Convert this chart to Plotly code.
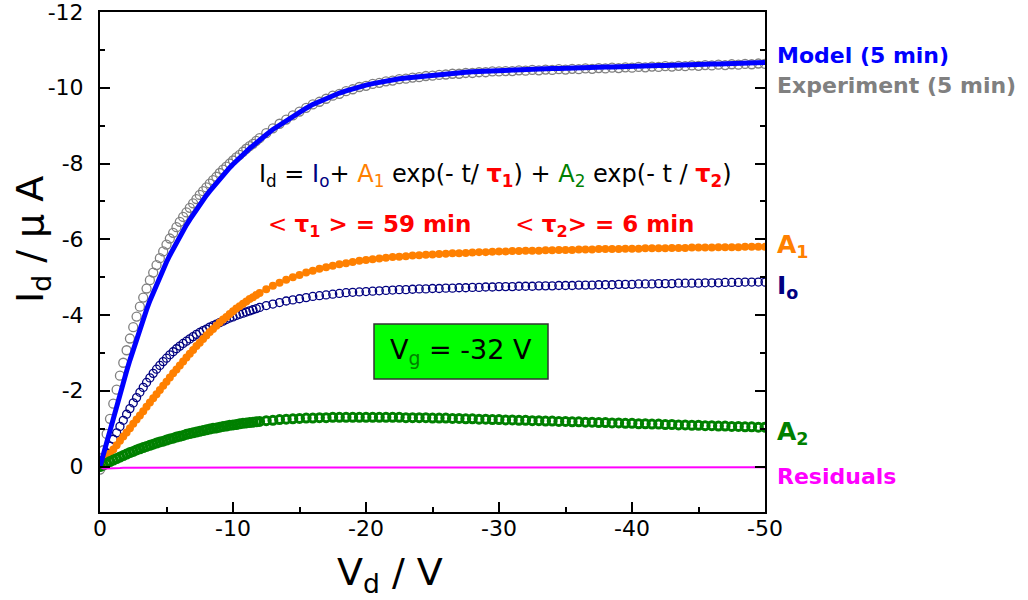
import plotly.graph_objects as go

# ---------------- data ----------------
V = [0, -0.25, -0.5, -0.75, -1, -1.25, -1.5, -1.75, -2, -2.25, -2.5, -2.75, -3,
     -3.25, -3.5, -3.75, -4, -4.25, -4.5, -4.75, -5, -5.25, -5.5, -5.75, -6,
     -6.25, -6.5, -6.75, -7, -7.25, -7.5, -7.75, -8, -8.25, -8.5, -8.75, -9,
     -9.25, -9.5, -9.75, -10, -10.25, -10.5, -10.75, -11, -11.25, -11.5, -11.75, -12,
     -12.5, -13, -13.5, -14, -14.5, -15, -15.5, -16, -16.5, -17, -17.5, -18, -18.5, -19, -19.5, -20,
     -20.5, -21, -21.5, -22, -22.5, -23, -23.5, -24, -24.5, -25, -25.5, -26, -26.5, -27, -27.5, -28, -28.5, -29, -29.5, -30,
     -30.5, -31, -31.5, -32, -32.5, -33, -33.5, -34, -34.5, -35, -35.5, -36, -36.5, -37, -37.5, -38, -38.5, -39, -39.5, -40,
     -40.5, -41, -41.5, -42, -42.5, -43, -43.5, -44, -44.5, -45, -45.5, -46, -46.5, -47, -47.5, -48, -48.5, -49, -49.5, -50]

model_5min = [0, -0.33, -0.66, -0.98, -1.30, -1.61, -1.92, -2.22, -2.52, -2.81, -3.09, -3.37, -3.64,
              -3.89, -4.14, -4.38, -4.60, -4.81, -5.01, -5.21, -5.40, -5.58, -5.75, -5.92, -6.08,
              -6.23, -6.38, -6.52, -6.66, -6.79, -6.92, -7.04, -7.16, -7.27, -7.38, -7.49, -7.60,
              -7.70, -7.80, -7.89, -7.98, -8.07, -8.15, -8.24, -8.32, -8.40, -8.47, -8.55, -8.62,
              -8.76, -8.90, -9.02, -9.14, -9.25, -9.36, -9.46, -9.56, -9.64, -9.72, -9.79, -9.86, -9.92, -9.98, -10.03, -10.07,
              -10.11, -10.15, -10.18, -10.21, -10.24, -10.26, -10.28, -10.30, -10.32, -10.34, -10.36, -10.37, -10.39, -10.40, -10.41, -10.42, -10.43, -10.44, -10.45, -10.46,
              -10.47, -10.47, -10.48, -10.49, -10.49, -10.50, -10.50, -10.51, -10.51, -10.52, -10.52, -10.53, -10.53, -10.54, -10.54, -10.55, -10.55, -10.56, -10.56, -10.57,
              -10.57, -10.58, -10.58, -10.59, -10.59, -10.60, -10.60, -10.61, -10.61, -10.62, -10.62, -10.63, -10.63, -10.64, -10.64, -10.65, -10.65, -10.66, -10.66, -10.67]

experiment_5min = [0.08, -0.43, -0.86, -1.26, -1.66, -2.03, -2.40, -2.74, -3.07, -3.38, -3.68, -3.96, -4.22,
                   -4.46, -4.70, -4.92, -5.12, -5.32, -5.50, -5.68, -5.86, -6.02, -6.17, -6.32, -6.46,
                   -6.59, -6.71, -6.83, -6.95, -7.06, -7.17, -7.27, -7.37, -7.47, -7.56, -7.65, -7.75,
                   -7.84, -7.92, -8.00, -8.08, -8.16, -8.23, -8.31, -8.39, -8.46, -8.52, -8.60, -8.67,
                   -8.80, -8.93, -9.05, -9.16, -9.27, -9.37, -9.47, -9.56, -9.63, -9.71, -9.79, -9.84, -9.91, -9.96, -10.02, -10.05,
                   -10.10, -10.13, -10.17, -10.19, -10.23, -10.24, -10.27, -10.28, -10.31, -10.32, -10.34, -10.35, -10.37, -10.37, -10.39, -10.39, -10.41, -10.41, -10.43, -10.43,
                   -10.44, -10.44, -10.46, -10.45, -10.47, -10.46, -10.48, -10.47, -10.49, -10.48, -10.50, -10.49, -10.51, -10.50, -10.52, -10.51, -10.53, -10.52, -10.54, -10.53,
                   -10.55, -10.54, -10.56, -10.55, -10.57, -10.56, -10.58, -10.57, -10.59, -10.58, -10.60, -10.59, -10.61, -10.60, -10.62, -10.61, -10.63, -10.62, -10.64, -10.63]

I_o = [0.0, -0.18, -0.36, -0.54, -0.72, -0.89, -1.06, -1.22, -1.38, -1.53, -1.68, -1.82, -1.96,
       -2.09, -2.22, -2.34, -2.46, -2.57, -2.67, -2.77, -2.86, -2.95, -3.03, -3.11, -3.18,
       -3.25, -3.31, -3.37, -3.43, -3.49, -3.54, -3.59, -3.63, -3.68, -3.72, -3.76, -3.80,
       -3.84, -3.88, -3.92, -3.95, -3.99, -4.02, -4.05, -4.08, -4.11, -4.14, -4.17, -4.20,
       -4.25, -4.29, -4.33, -4.37, -4.40, -4.43, -4.46, -4.49, -4.51, -4.53, -4.55, -4.57, -4.59, -4.60, -4.61, -4.62,
       -4.63, -4.64, -4.65, -4.66, -4.67, -4.67, -4.68, -4.69, -4.69, -4.70, -4.70, -4.71, -4.71, -4.72, -4.72, -4.73, -4.73, -4.74, -4.74, -4.75,
       -4.75, -4.75, -4.76, -4.76, -4.76, -4.77, -4.77, -4.77, -4.78, -4.78, -4.78, -4.79, -4.79, -4.79, -4.80, -4.80, -4.80, -4.81, -4.81, -4.81,
       -4.82, -4.82, -4.82, -4.83, -4.83, -4.83, -4.84, -4.84, -4.84, -4.84, -4.85, -4.85, -4.85, -4.86, -4.86, -4.86, -4.87, -4.87, -4.87, -4.87]

A_1 = [0.0, -0.11, -0.23, -0.34, -0.45, -0.56, -0.68, -0.79, -0.90, -1.01, -1.13, -1.24, -1.35,
       -1.46, -1.58, -1.69, -1.80, -1.91, -2.02, -2.13, -2.24, -2.35, -2.46, -2.56, -2.67,
       -2.77, -2.88, -2.98, -3.08, -3.18, -3.27, -3.37, -3.46, -3.55, -3.63, -3.72, -3.80,
       -3.88, -3.95, -4.03, -4.10, -4.17, -4.23, -4.30, -4.36, -4.42, -4.47, -4.53, -4.58,
       -4.68, -4.77, -4.85, -4.93, -5.00, -5.06, -5.12, -5.17, -5.22, -5.26, -5.30, -5.34, -5.37, -5.40, -5.43, -5.45,
       -5.47, -5.49, -5.51, -5.53, -5.54, -5.55, -5.57, -5.58, -5.59, -5.60, -5.61, -5.62, -5.63, -5.63, -5.64, -5.65, -5.66, -5.66, -5.67, -5.68,
       -5.68, -5.69, -5.69, -5.70, -5.70, -5.70, -5.71, -5.71, -5.72, -5.72, -5.72, -5.73, -5.73, -5.73, -5.74, -5.74, -5.74, -5.74, -5.75, -5.75,
       -5.75, -5.76, -5.76, -5.76, -5.76, -5.77, -5.77, -5.77, -5.78, -5.78, -5.78, -5.78, -5.79, -5.79, -5.79, -5.79, -5.80, -5.80, -5.80, -5.80]

A_2 = [0.0, -0.04, -0.09, -0.13, -0.17, -0.21, -0.25, -0.29, -0.33, -0.37, -0.40, -0.44, -0.47,
       -0.50, -0.53, -0.56, -0.59, -0.62, -0.65, -0.67, -0.70, -0.73, -0.75, -0.78, -0.80,
       -0.82, -0.85, -0.87, -0.89, -0.91, -0.93, -0.95, -0.97, -0.99, -1.01, -1.02, -1.04,
       -1.06, -1.07, -1.09, -1.10, -1.11, -1.13, -1.14, -1.15, -1.16, -1.17, -1.18, -1.19,
       -1.21, -1.22, -1.24, -1.25, -1.26, -1.27, -1.28, -1.28, -1.29, -1.29, -1.30, -1.30, -1.30, -1.30, -1.30, -1.30,
       -1.30, -1.30, -1.30, -1.30, -1.30, -1.29, -1.29, -1.29, -1.29, -1.28, -1.28, -1.28, -1.27, -1.27, -1.26, -1.26, -1.25, -1.25, -1.24, -1.24,
       -1.23, -1.23, -1.22, -1.22, -1.21, -1.21, -1.20, -1.20, -1.19, -1.19, -1.18, -1.18, -1.17, -1.17, -1.16, -1.16, -1.15, -1.15, -1.14, -1.14,
       -1.13, -1.13, -1.12, -1.12, -1.11, -1.11, -1.10, -1.10, -1.09, -1.09, -1.08, -1.08, -1.07, -1.07, -1.06, -1.06, -1.05, -1.05, -1.04, -1.04]

residuals = [0.00, 0.05, 0.05, 0.05, 0.05, 0.05, 0.04, 0.03, 0.03, 0.03, 0.03, 0.03, 0.03,
             0.03, 0.03, 0.03, 0.03, 0.03, 0.03, 0.03, 0.03, 0.03, 0.03, 0.03, 0.03,
             0.03, 0.03, 0.03, 0.03, 0.03, 0.03, 0.02, 0.03, 0.03, 0.03, 0.03, 0.03,
             0.03, 0.03, 0.03, 0.03, 0.03, 0.02, 0.03, 0.03, 0.03, 0.03, 0.03, 0.03,
             0.02, 0.02, 0.02, 0.02, 0.02, 0.02, 0.02, 0.02, 0.02, 0.02, 0.02, 0.02, 0.02, 0.02, 0.02, 0.02,
             0.02, 0.02, 0.02, 0.02, 0.02, 0.02, 0.02, 0.02, 0.02, 0.02, 0.02, 0.02, 0.02, 0.02, 0.02, 0.02, 0.02, 0.02, 0.02, 0.02,
             0.02, 0.02, 0.02, 0.02, 0.02, 0.02, 0.02, 0.02, 0.02, 0.02, 0.02, 0.02, 0.02, 0.02, 0.02, 0.02, 0.02, 0.02, 0.02, 0.02,
             0.02, 0.02, 0.02, 0.02, 0.02, 0.02, 0.02, 0.02, 0.02, 0.02, 0.02, 0.02, 0.02, 0.02, 0.02, 0.02, 0.02, 0.02, 0.02, 0.02]

x_tickvals = [0, -10, -20, -30, -40, -50]
x_ticktext = ["0", "-10", "-20", "-30", "-40", "-50"]
x_minor = [-5, -15, -25, -35, -45]
y_tickvals = [-12, -10, -8, -6, -4, -2, 0]
y_ticktext = ["-12", "-10", "-8", "-6", "-4", "-2", "0"]
y_minor = [-11, -9, -7, -5, -3, -1]

# ---------------- styles ----------------
FONT = "DejaVu Sans, Liberation Sans, Arial, sans-serif"
C_MODEL = "#0000FF"
C_EXP = "#808080"
C_IO = "#000080"
C_A1 = "#FF8000"
C_A2 = "#008000"
C_RES = "#FF00FF"
C_TAU = "#FF0000"

fig = go.Figure()
fig.add_trace(go.Scatter(x=V, y=experiment_5min, mode="markers",
                         marker=dict(symbol="circle-open", size=9, color=C_EXP, line=dict(width=1.3))))
fig.add_trace(go.Scatter(x=V, y=I_o, mode="markers",
                         marker=dict(symbol="circle-open", size=8, color=C_IO, line=dict(width=1.3))))
fig.add_trace(go.Scatter(x=V, y=A_1, mode="markers",
                         marker=dict(symbol="circle", size=8, color=C_A1, line=dict(width=0))))
fig.add_trace(go.Scatter(x=V, y=A_2, mode="markers",
                         marker=dict(symbol="circle-open", size=8, color=C_A2, line=dict(width=3))))
fig.add_trace(go.Scatter(x=V, y=residuals, mode="lines", line=dict(color=C_RES, width=2)))
fig.add_trace(go.Scatter(x=V, y=model_5min, mode="lines", line=dict(color=C_MODEL, width=5)))

axis_common = dict(showgrid=False, zeroline=False, showline=True, linecolor="black", linewidth=2,
                   ticks="inside", ticklen=10, tickwidth=2, tickcolor="black", automargin=False,
                   ticklabeloverflow="allow",
                   tickfont=dict(family=FONT, size=22, color="black"))

fig.update_xaxes(range=[0, -50], tickmode="array", tickvals=x_tickvals, ticktext=x_ticktext,
                 mirror=True, ticklabelstandoff=-4,
                 minor=dict(tickmode="array", tickvals=x_minor, ticks="inside", ticklen=5,
                            tickwidth=2, tickcolor="black"),
                 **axis_common)
fig.update_yaxes(range=[1.2, -12], tickmode="array", tickvals=y_tickvals, ticktext=y_ticktext,
                 mirror="ticks", ticklabelstandoff=10,
                 minor=dict(tickmode="array", tickvals=y_minor, ticks="inside", ticklen=5,
                            tickwidth=2, tickcolor="black"),
                 **axis_common)


def px_x(px):
    return (px - 100) / 665.0


def px_y(py):
    return (512 - py) / 500.0


ann = []
# axis titles
ann.append(dict(text="I<sub>d</sub> / μ A", x=px_x(33), y=px_y(240), textangle=-90,
                font=dict(family=FONT, size=38, color="black")))
ann.append(dict(text="V<sub>d</sub> / V", x=px_x(390), y=px_y(574),
                font=dict(family=FONT, size=38, color="black")))
# right-hand labels
lab = dict(family=FONT, size=22)
ann.append(dict(text="<b>Model (5 min)</b>", x=px_x(775), y=px_y(56), xanchor="left",
                font=dict(lab, color=C_MODEL)))
ann.append(dict(text="<b>Experiment (5 min)</b>", x=px_x(775), y=px_y(85), xanchor="left",
                font=dict(lab, color=C_EXP)))
ann.append(dict(text="<b>A<sub>1</sub></b>", x=px_x(775), y=px_y(246), xanchor="left",
                font=dict(lab, size=25, color=C_A1)))
ann.append(dict(text="<b>I<sub>o</sub></b>", x=px_x(775), y=px_y(287), xanchor="left",
                font=dict(lab, size=25, color=C_IO)))
ann.append(dict(text="<b>A<sub>2</sub></b>", x=px_x(775), y=px_y(433), xanchor="left",
                font=dict(lab, size=25, color=C_A2)))
ann.append(dict(text="<b>Residuals</b>", x=px_x(775), y=px_y(476), xanchor="left",
                font=dict(lab, color=C_RES)))
# formula
formula = ("I<sub>d</sub> = <span style='color:%s'>I<sub>o</sub></span>+ "
           "<span style='color:%s'>A<sub>1</sub></span> exp(- t/ "
           "<span style='color:%s'><b>τ<sub>1</sub></b></span>) + "
           "<span style='color:%s'>A<sub>2</sub></span> exp(- t / "
           "<span style='color:%s'><b>τ<sub>2</sub></b></span>)") % (C_IO, C_A1, C_TAU, C_A2, C_TAU)
ann.append(dict(text=formula, x=px_x(495), y=px_y(176),
                font=dict(family=FONT, size=24, color="black")))
taus = ("&lt; <b>τ<sub>1</sub> &gt; = 59 min</b>&nbsp;&nbsp;&nbsp;&nbsp;&nbsp;&nbsp;"
        "&lt; <b>τ<sub>2</sub>&gt; = 6 min</b>")
ann.append(dict(text=taus, x=px_x(481), y=px_y(226),
                font=dict(family=FONT, size=23, color=C_TAU)))
# Vg box
ann.append(dict(text="V<sub><span style='color:#008000'>g</span></sub> = -32 V", x=px_x(461), y=px_y(352),
                font=dict(family=FONT, size=27, color="black")))

for a in ann:
    a.setdefault("xref", "paper")
    a.setdefault("yref", "paper")
    a.setdefault("showarrow", False)
    a.setdefault("xanchor", "center")
    a.setdefault("yanchor", "middle")

fig.update_layout(
    width=1028, height=600,
    margin=dict(l=100, r=263, t=12, b=88),
    paper_bgcolor="white", plot_bgcolor="white",
    showlegend=False,
    annotations=ann,
    shapes=[dict(type="rect", xref="paper", yref="paper",
                 x0=px_x(374), x1=px_x(548), y0=px_y(379), y1=px_y(324),
                 fillcolor="#00FF00", line=dict(color="#333333", width=1.5), layer="below")],
)

fig.write_html("out.html")
